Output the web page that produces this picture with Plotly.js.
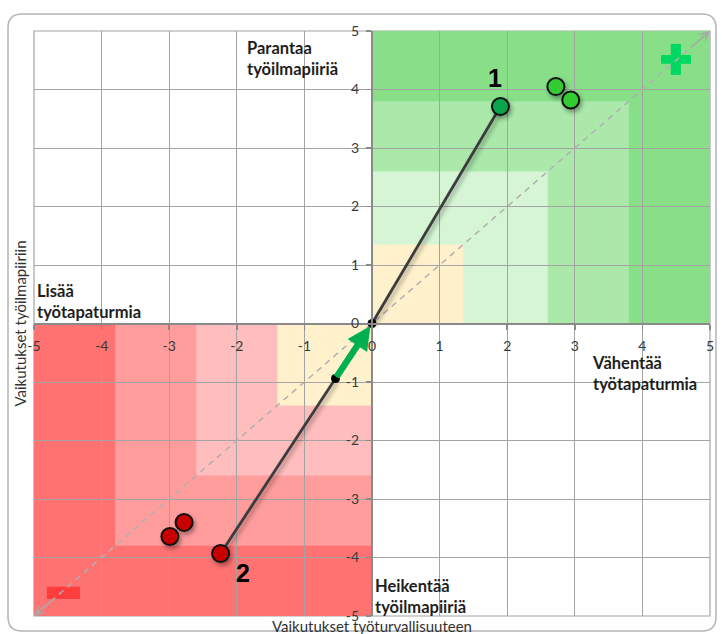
<!DOCTYPE html>
<html>
<head>
<meta charset="utf-8">
<script src="https://cdn.plot.ly/plotly-3.0.1.min.js"></script>
<style>
  html, body { margin: 0; padding: 0; background: #ffffff; }
  #chart { width: 722px; height: 634px; }
</style>
</head>
<body>
<div id="chart"></div>
<script>
// Vaikutukset: x = työturvallisuus, y = työilmapiiri (asteikko -5 ... 5)
const axisTicks = [-5, -4, -3, -2, -1, 0, 1, 2, 3, 4, 5];

// Vyöhykkeiden rajat ja värit (ulommasta sisimpään)
const greenLevels = [5, 3.8, 2.6, 1.35];
const greenFills = ['#88df88', '#aae9aa', '#d5f5d5', '#fff1cc'];
const redLevels = [5, 3.8, 2.6, 1.4];
const redFills = ['#ff7272', '#ff9c9c', '#ffbdbd', '#fff1cc'];

// Toimenpiteet
const improvedX = [2.72, 2.94];
const improvedY = [4.05, 3.82];
const weakenedX = [-2.99, -2.78];
const weakenedY = [-3.64, -3.40];
const case1X = [1.9];
const case1Y = [3.71];
const case2X = [-2.24];
const case2Y = [-3.93];
const turnX = [-0.54];
const turnY = [-0.94];
const originX = [0];
const originY = [0];
const caseLabels = ['1', '2'];

// Akseleiden otsikot ja nelikenttien tekstit
const xTitle = 'Vaikutukset työturvallisuuteen';
const yTitle = 'Vaikutukset työilmapiiriin';
const quadrantTexts = ['Parantaa<br>työilmapiiriä', 'Lisää<br>työtapaturmia',
                       'Vähentää<br>työtapaturmia', 'Heikentää<br>työilmapiiriä'];

const FONT = 'Lato, "Open Sans", sans-serif';

// Plot area in pixels: left 34, right 710, top 31, bottom 616
const W = 722, H = 634, ML = 34, MR = 12, MT = 31, MB = 18;
const PW = W - ML - MR, PH = H - MT - MB;
const px = v => (v - ML) / PW;
const py = v => (H - MB - v) / PH;

const shapes = [];
greenLevels.forEach((lv, i) => {
  shapes.push({type: 'rect', xref: 'x', yref: 'y', x0: 0, y0: 0, x1: lv, y1: lv,
               fillcolor: greenFills[i], line: {width: 0}, layer: 'below'});
});
redLevels.forEach((lv, i) => {
  shapes.push({type: 'rect', xref: 'x', yref: 'y', x0: -lv, y0: -lv, x1: 0, y1: 0,
               fillcolor: redFills[i], line: {width: 0}, layer: 'below'});
});

// "+" and "−" symbols in the corners
shapes.push({type: 'rect', xref: 'x', yref: 'y', x0: 4.275, x1: 4.72, y0: 4.44, y1: 4.59,
             fillcolor: '#00d862', line: {width: 0}, layer: 'between'});
shapes.push({type: 'rect', xref: 'x', yref: 'y', x0: 4.42, x1: 4.57, y0: 4.25, y1: 4.78,
             fillcolor: '#00d862', line: {width: 0}, layer: 'between'});
shapes.push({type: 'rect', xref: 'x', yref: 'y', x0: -4.81, x1: -4.32, y0: -4.71, y1: -4.50,
             fillcolor: '#ff3d3d', line: {width: 0}, layer: 'between'});

// Plot border
shapes.push({type: 'rect', xref: 'paper', yref: 'paper', x0: 0, y0: 0, x1: 1, y1: 1,
             line: {color: '#a3a3a3', width: 1.2}, layer: 'between'});

// Rounded outer frame
(function () {
  const L = px(8), R = px(716), T = py(14), B = py(631);
  const rx = 14 / PW, ry = 14 / PH;
  const path = `M ${L + rx},${T} L ${R - rx},${T} Q ${R},${T} ${R},${T - ry} ` +
               `L ${R},${B + ry} Q ${R},${B} ${R - rx},${B} ` +
               `L ${L + rx},${B} Q ${L},${B} ${L},${B + ry} ` +
               `L ${L},${T - ry} Q ${L},${T} ${L + rx},${T} Z`;
  shapes.push({type: 'path', xref: 'paper', yref: 'paper', path: path,
               line: {color: '#b5b5b5', width: 1.5}, layer: 'below'});
})();

const traces = [
  // dashed diagonal
  {x: [axisTicks[0], axisTicks[axisTicks.length - 1]], y: [axisTicks[0], axisTicks[axisTicks.length - 1]],
   mode: 'lines', line: {color: '#b0b0b0', width: 1.5, dash: '6px,5px'}, hoverinfo: 'skip'},
  // path to case 1
  {x: originX.concat(case1X), y: originY.concat(case1Y), mode: 'lines',
   line: {color: '#3c3c3c', width: 2.8}, hoverinfo: 'skip'},
  // path from case 2 to turning point
  {x: case2X.concat(turnX), y: case2Y.concat(turnY), mode: 'lines',
   line: {color: '#3c3c3c', width: 2.8}, hoverinfo: 'skip'},
  // other improving measures
  {x: improvedX, y: improvedY, mode: 'markers',
   marker: {size: 17, color: '#33cc33', line: {color: '#111111', width: 2}}},
  // other weakening measures
  {x: weakenedX, y: weakenedY, mode: 'markers',
   marker: {size: 17, color: '#c80000', line: {color: '#111111', width: 2}}},
  // case 1
  {x: case1X, y: case1Y, mode: 'markers',
   marker: {size: 17, color: '#0aa64e', line: {color: '#111111', width: 2}}},
  // case 2
  {x: case2X, y: case2Y, mode: 'markers',
   marker: {size: 17, color: '#c80000', line: {color: '#111111', width: 2}}},
  // turning point and origin dots
  {x: turnX.concat(originX), y: turnY.concat(originY), mode: 'markers',
   marker: {size: 9, color: '#000000'}}
];

const annotations = [
  // green arrow from turning point to origin
  {x: originX[0], y: originY[0], ax: turnX[0], ay: turnY[0], xref: 'x', yref: 'y',
   axref: 'x', ayref: 'y', text: '', showarrow: true, arrowhead: 2, arrowsize: 0.72,
   arrowwidth: 6.5, arrowcolor: '#00b050', standoff: 3},
  // diagonal arrowheads
  {x: 5, y: 5, ax: 4.7, ay: 4.7, xref: 'x', yref: 'y', axref: 'x', ayref: 'y', text: '',
   showarrow: true, arrowhead: 3, arrowsize: 1.3, arrowwidth: 1.5, arrowcolor: '#a8a8a8'},
  {x: -5, y: -5, ax: -4.7, ay: -4.7, xref: 'x', yref: 'y', axref: 'x', ayref: 'y', text: '',
   showarrow: true, arrowhead: 3, arrowsize: 1.3, arrowwidth: 1.5, arrowcolor: '#a8a8a8'},
  // case numbers
  {x: 1.82, y: 4.2, xref: 'x', yref: 'y', text: '<b>' + caseLabels[0] + '</b>', showarrow: false,
   font: {family: '"Liberation Sans", Arial, sans-serif', size: 25, color: '#000'}},
  {x: -1.91, y: -4.26, xref: 'x', yref: 'y', text: '<b>' + caseLabels[1] + '</b>', showarrow: false,
   font: {family: '"Liberation Sans", Arial, sans-serif', size: 25, color: '#000'}},
  // quadrant texts
  {x: -1.88, y: 4.53, xref: 'x', yref: 'y', xanchor: 'left', align: 'left', text: '<b>' + quadrantTexts[0] + '</b>',
   showarrow: false, font: {family: FONT, size: 16.5, color: '#1e1e1e'}},
  {x: -4.98, y: 0.38, xref: 'x', yref: 'y', xanchor: 'left', align: 'left', text: '<b>' + quadrantTexts[1] + '</b>',
   showarrow: false, font: {family: FONT, size: 16.5, color: '#1e1e1e'}},
  {x: 3.22, y: -0.86, xref: 'x', yref: 'y', xanchor: 'left', align: 'left', text: '<b>' + quadrantTexts[2] + '</b>',
   showarrow: false, font: {family: FONT, size: 16.5, color: '#1e1e1e'}},
  {x: 0.02, y: -4.67, xref: 'x', yref: 'y', xanchor: 'left', align: 'left', text: '<b>' + quadrantTexts[3] + '</b>',
   showarrow: false, font: {family: FONT, size: 16.5, color: '#1e1e1e'}},
  // axis titles
  {x: 0.5, y: py(626), xref: 'paper', yref: 'paper', text: xTitle, showarrow: false,
   font: {family: FONT, size: 15, color: '#333'}, yanchor: 'middle'},
  {x: px(19), y: 0.5, xref: 'paper', yref: 'paper', text: yTitle, showarrow: false, textangle: -90,
   font: {family: FONT, size: 15, color: '#333'}, xanchor: 'center'}
];

const axisCommon = {
  range: [-5, 5], tickvals: axisTicks, ticktext: axisTicks.map(String),
  showgrid: true, gridcolor: '#a3a3a3', gridwidth: 1, zeroline: false,
  showline: true, linecolor: '#8a8a8a', linewidth: 2,
  ticks: 'outside', ticklen: 5, tickcolor: '#8a8a8a', tickwidth: 1.5,
  tickfont: {family: FONT, size: 14, color: '#3a3a3a'},
  anchor: 'free', position: 0.5, fixedrange: true
};

const layout = {
  width: W, height: H,
  margin: {l: ML, r: MR, t: MT, b: MB, pad: 0},
  paper_bgcolor: '#ffffff', plot_bgcolor: '#ffffff',
  showlegend: false,
  xaxis: Object.assign({}, axisCommon, {ticklabelstandoff: 5}),
  yaxis: Object.assign({}, axisCommon, {ticklabelstandoff: 4}),
  shapes: shapes,
  annotations: annotations,
  hovermode: false
};

Plotly.newPlot('chart', traces, layout, {displayModeBar: false, staticPlot: true}).then(() => {
  // soft drop shadows under the connecting lines and the markers
  document.querySelectorAll('#chart .scatterlayer .trace').forEach((g, i) => {
    if (i >= 1 && i <= 6) g.style.filter = 'drop-shadow(2px 3px 2px rgba(0,0,0,0.35))';
  });
});
</script>
</body>
</html>
